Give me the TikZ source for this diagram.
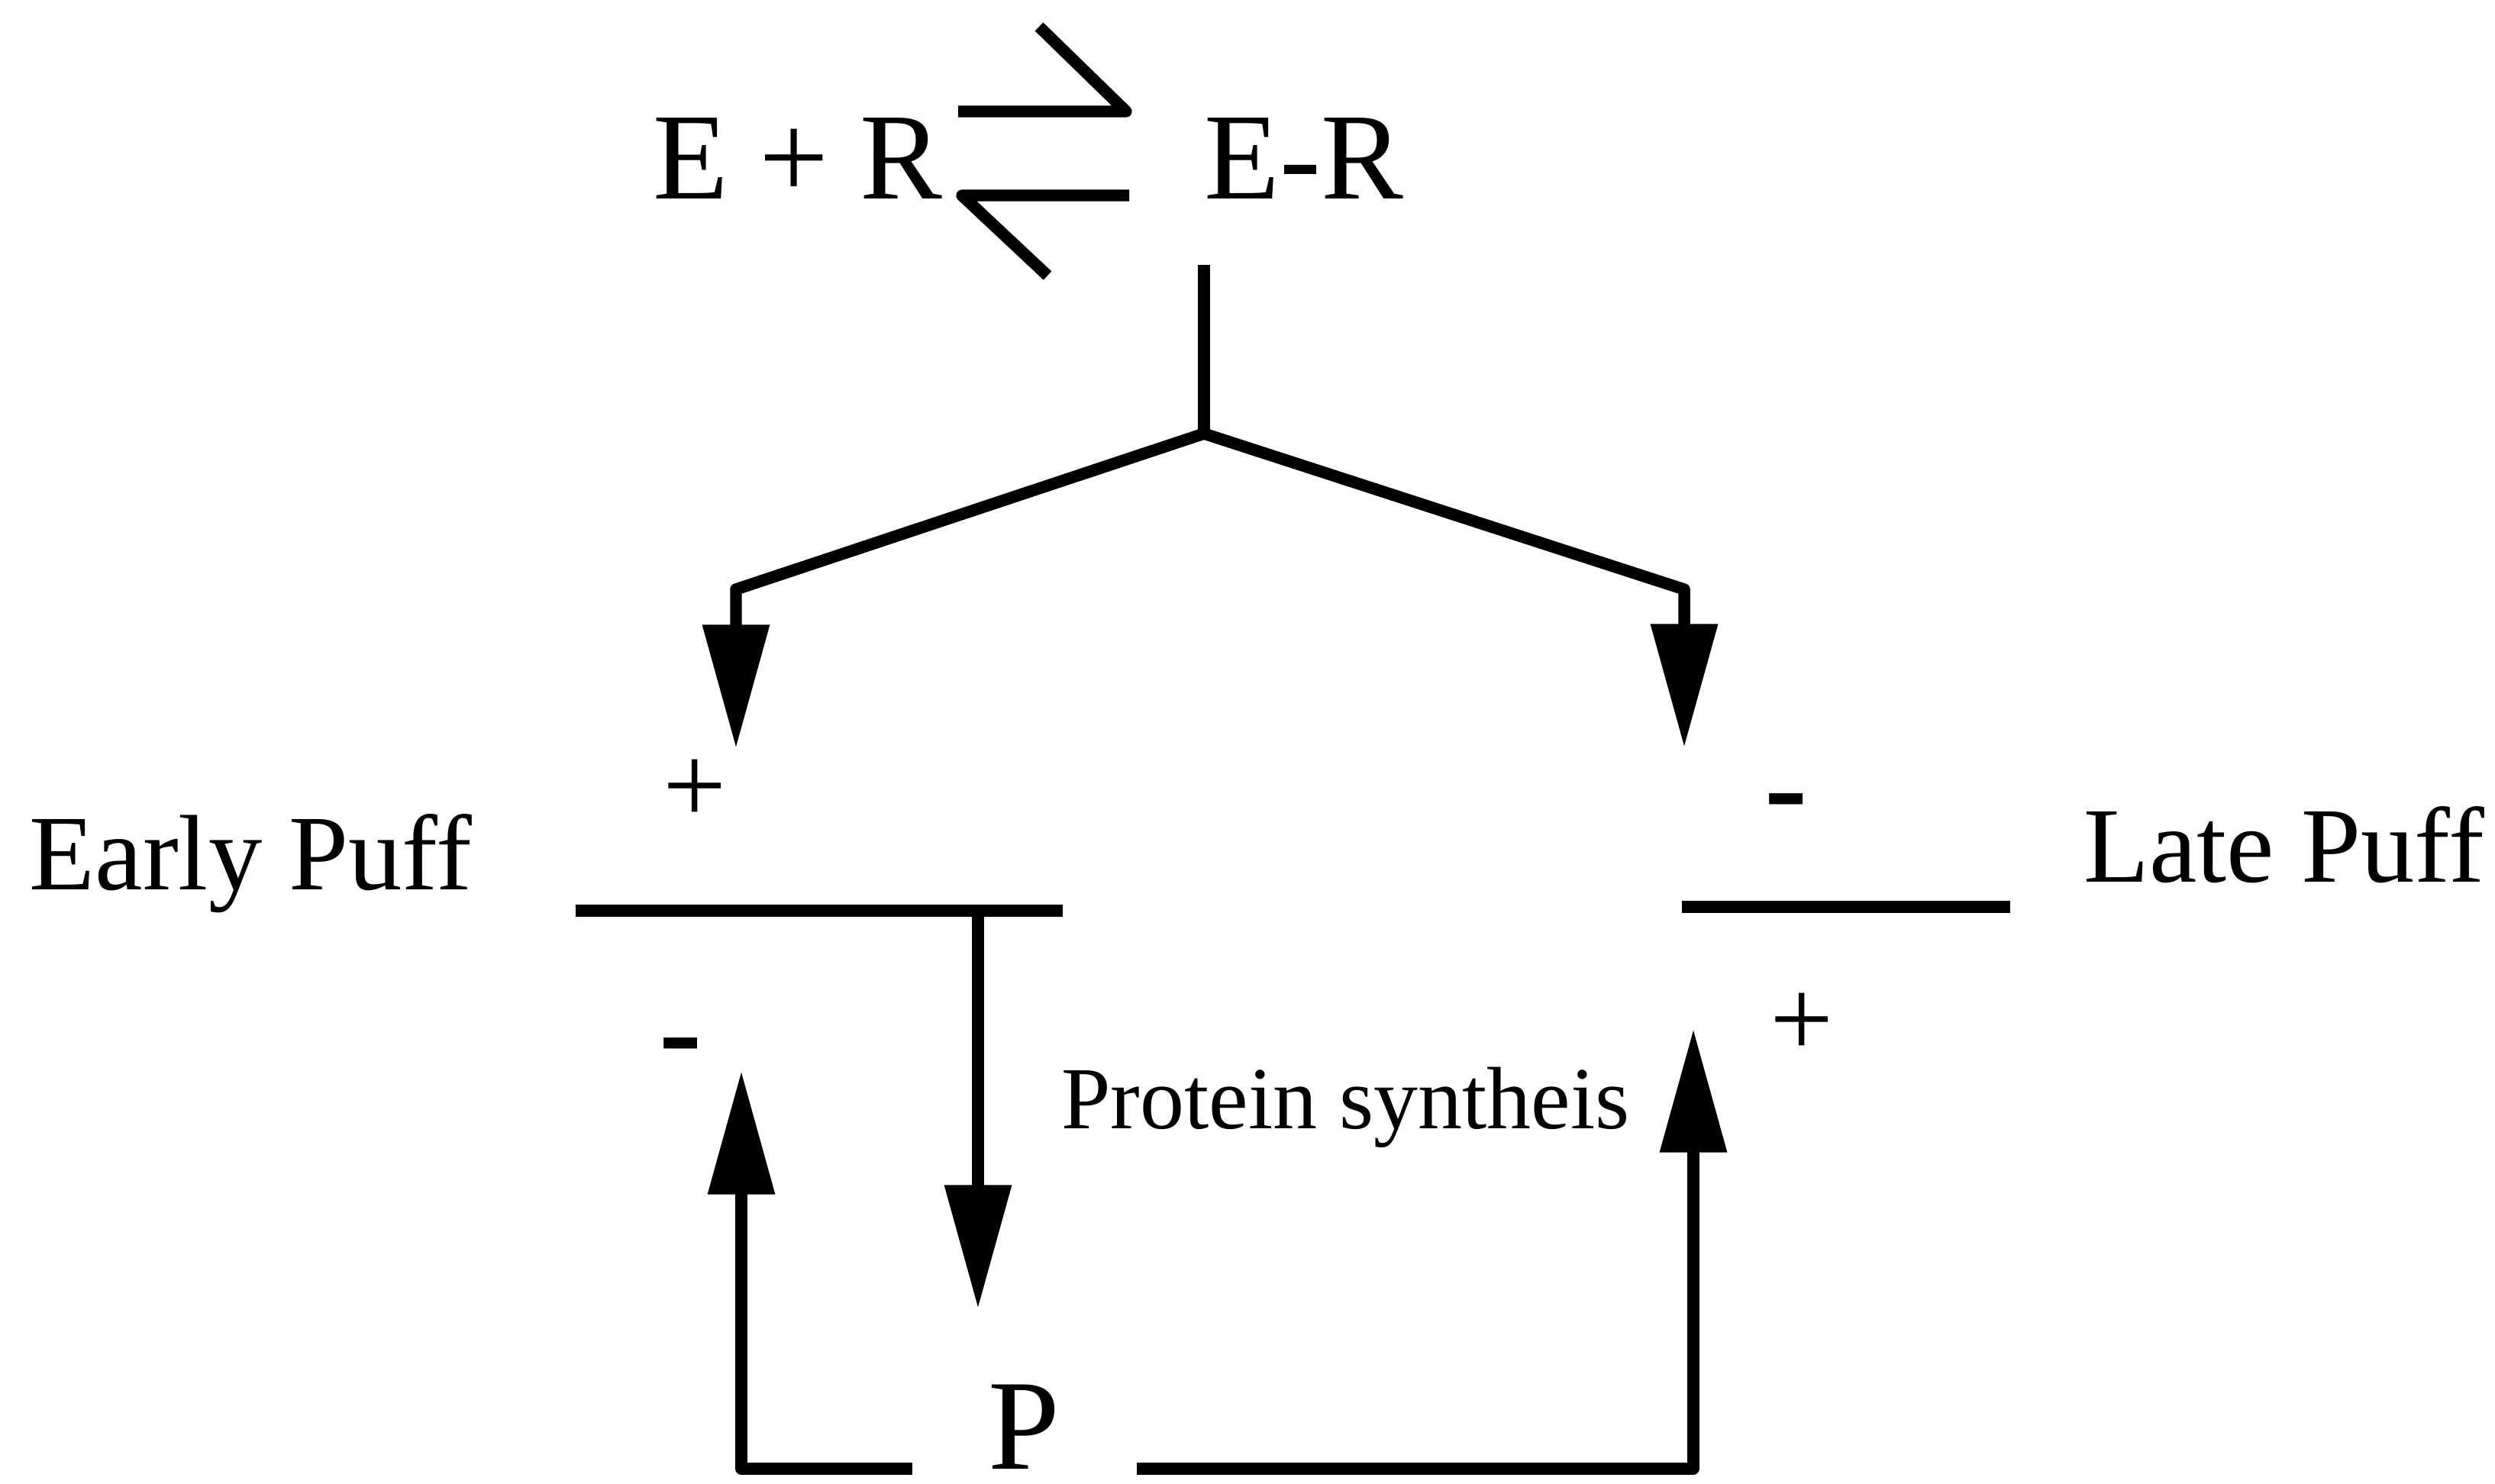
\documentclass[tikz,border=0pt]{standalone}
\usepackage{fontspec}
\setmainfont{Liberation Serif}
\usetikzlibrary{arrows.meta}

\begin{document}
\begin{tikzpicture}[
    wire/.style={line width=2.2pt, line join=round},
    conn/.style={wire, -{Triangle[length=23pt,width=12pt]}},
    big/.style={inner sep=0pt, anchor=base west, font=\fontsize{23}{27}\selectfont},
    gene/.style={inner sep=0pt, anchor=base west, font=\fontsize{20}{24}\selectfont},
    note/.style={inner sep=0pt, anchor=base west, font=\fontsize{16.5}{20}\selectfont},
    sign/.style={inner sep=0pt, anchor=base, font=\fontsize{21}{25}\selectfont},
    minus/.style={sign, font=\fontsize{24}{28}\selectfont\bfseries}]

\useasboundingbox (0,0) rectangle (16.34,9.715);

% Equilibrium E + R <-> E-R
\node[big] (reactants) at (4.27,8.415) {E + R};
\node[big] (complex) at (7.88,8.415) {E-R};
\coordinate (fwdA) at (6.275,8.985);
\coordinate (fwdB) at (7.375,8.985);
\coordinate (fwdC) at (6.805,9.54);
\coordinate (revA) at (7.395,8.435);
\coordinate (revB) at (6.30,8.435);
\coordinate (revC) at (6.86,7.91);
\draw[wire] (fwdA) -- (fwdB) -- (fwdC);
\draw[wire] (revA) -- (revB) -- (revC);

% Branching to the two puffs
\coordinate (stemtop) at (7.885,7.98);
\coordinate (split) at (7.885,6.875);
\coordinate (ecorner) at (4.82,5.855);
\coordinate (etip) at (4.82,4.815);
\coordinate (lcorner) at (11.03,5.855);
\coordinate (ltip) at (11.03,4.82);
\draw[wire] (stemtop) -- (split);
\draw[conn] (split) -- (ecorner) -- (etip);
\draw[conn] (split) -- (lcorner) -- (ltip);

% Genes
\node[gene] (early) at (0.187,3.89) {Early Puff};
\node[gene] (late) at (13.64,3.94) {Late Puff};
\coordinate (ebarL) at (3.77,3.75);
\coordinate (ebarR) at (6.96,3.75);
\coordinate (lbarL) at (11.015,3.775);
\coordinate (lbarR) at (13.165,3.775);
\draw[wire] (ebarL) -- (ebarR);
\draw[wire] (lbarL) -- (lbarR);

% Signs
\node[sign] (epos) at (4.55,4.323) {+};
\node[minus] (lneg) at (11.70,4.281) {-};
\node[minus] (eneg) at (4.46,2.681) {-};
\node[sign] (lpos) at (11.80,2.793) {+};

% Protein synthesis and feedback
\node[note] (synth) at (6.945,2.325) {Protein syntheis};
\node[inner sep=0pt, anchor=base west, font=\fontsize{24}{28}\selectfont] (prot) at (6.465,0.095) {P};
\coordinate (synfrom) at (6.405,3.75);
\coordinate (syntip) at (6.405,1.145);
\draw[conn] (synfrom) -- (syntip);
\coordinate (pleft) at (5.975,0.095);
\coordinate (pright) at (7.445,0.095);
\coordinate (fbtipL) at (4.855,2.70);
\coordinate (fbtipR) at (11.09,2.975);
\draw[conn] (pleft) -| (fbtipL);
\draw[conn] (pright) -| (fbtipR);

\end{tikzpicture}
\end{document}
